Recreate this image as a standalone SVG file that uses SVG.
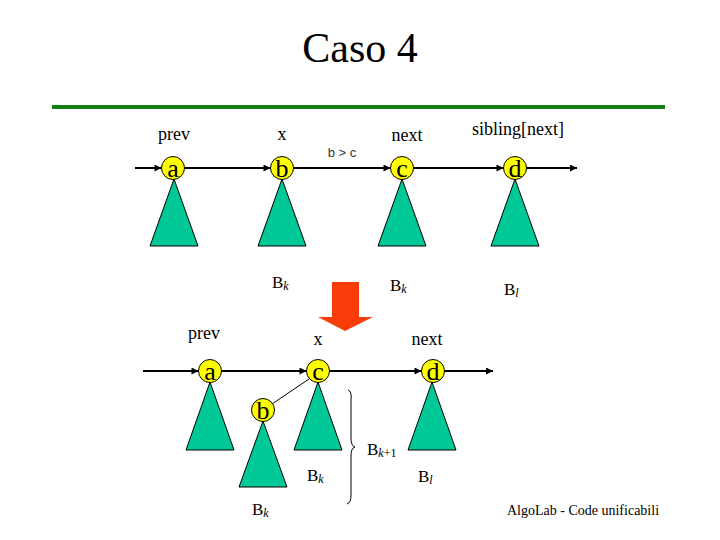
<svg xmlns="http://www.w3.org/2000/svg" width="720" height="540" viewBox="0 0 720 540">
<defs>
<marker id="ah" viewBox="0 0 10 10" refX="10" refY="5" markerWidth="9" markerHeight="7" markerUnits="userSpaceOnUse" orient="auto">
<path d="M0,0 L10,5 L0,10 z" fill="#000"/>
</marker>
<style>
.t{font-family:"Liberation Serif","Times New Roman",serif;fill:#000}
.lbl{font-size:18px;text-anchor:middle}
.nl{font-size:26px;text-anchor:middle}
.bk{font-size:17px}
.sub{font-size:12px;font-style:italic}
.tri{fill:#00c896;stroke:#000;stroke-width:1}
.nd{fill:#ffff00;stroke:#000;stroke-width:1}
.ln{stroke:#000;stroke-width:2;fill:none}
</style>
</defs>
<rect width="720" height="540" fill="#fff"/>
<text class="t" x="360" y="62" font-size="42" text-anchor="middle">Caso 4</text>
<line x1="52" y1="107" x2="665" y2="107" stroke="#138013" stroke-width="4"/>

<g id="connectors">
<line class="ln" x1="135" y1="168" x2="161.5" y2="168" marker-end="url(#ah)"/>
<line class="ln" x1="184.5" y1="168" x2="270.5" y2="168" marker-end="url(#ah)"/>
<line class="ln" x1="293.5" y1="168" x2="390.5" y2="168" marker-end="url(#ah)"/>
<line class="ln" x1="413.5" y1="168" x2="503.5" y2="168" marker-end="url(#ah)"/>
<line class="ln" x1="526.5" y1="168" x2="577" y2="168" marker-end="url(#ah)"/>
<line class="ln" x1="143" y1="371" x2="198.5" y2="371" marker-end="url(#ah)"/>
<line class="ln" x1="221.5" y1="371" x2="306.5" y2="371" marker-end="url(#ah)"/>
<line class="ln" x1="329.5" y1="371" x2="421.5" y2="371" marker-end="url(#ah)"/>
<line class="ln" x1="444.5" y1="371" x2="493" y2="371" marker-end="url(#ah)"/>
<line x1="272" y1="404" x2="309" y2="379" stroke="#000" stroke-width="1"/>
</g>

<text class="t lbl" x="174" y="140">prev</text>
<text class="t lbl" x="282" y="140">x</text>
<text class="t lbl" x="407" y="141">next</text>
<text class="t lbl" x="518" y="135">sibling[next]</text>
<text x="342" y="157" font-family="Liberation Sans, Arial, sans-serif" font-size="13" fill="#333" text-anchor="middle">b &gt; c</text>

<g id="top-a"><polygon class="tri" points="174,179 150,246 198,246"/><circle class="nd" cx="173" cy="168" r="11.5"/><text class="t nl" x="173" y="177">a</text></g>
<g id="top-b"><polygon class="tri" points="282,179 258,246 306,246"/><circle class="nd" cx="282" cy="168" r="11.5"/><text class="t nl" x="282" y="177">b</text></g>
<g id="top-c"><polygon class="tri" points="402,179 378,246 426,246"/><circle class="nd" cx="402" cy="168" r="11.5"/><text class="t nl" x="402" y="177">c</text></g>
<g id="top-d"><polygon class="tri" points="515,179 491,246 539,246"/><circle class="nd" cx="515" cy="168" r="11.5"/><text class="t nl" x="515" y="177">d</text></g>

<text class="t bk" x="272" y="288">B<tspan class="sub" dy="2">k</tspan></text>
<text class="t bk" x="390" y="291">B<tspan class="sub" dy="2">k</tspan></text>
<text class="t bk" x="504" y="295">B<tspan class="sub" dy="2">l</tspan></text>

<g id="arrow"><polygon points="332,282 359,282 359,317 373,317 345,331 318,317 332,317" fill="#f83c0a"/></g>

<text class="t lbl" x="204" y="339">prev</text>
<text class="t lbl" x="318" y="345">x</text>
<text class="t lbl" x="427" y="345">next</text>

<g id="bot-a"><polygon class="tri" points="210,382 186,450 234,450"/><circle class="nd" cx="210" cy="371" r="11.5"/><text class="t nl" x="210" y="380">a</text></g>
<g id="bot-c"><polygon class="tri" points="318,382 294,450 342,450"/><circle class="nd" cx="318" cy="371" r="11.5"/><text class="t nl" x="318" y="380">c</text></g>
<g id="bot-d"><polygon class="tri" points="432,382 408,450 456,450"/><circle class="nd" cx="433" cy="371" r="11.5"/><text class="t nl" x="433" y="380">d</text></g>
<g id="bot-b"><polygon class="tri" points="263,421 239,487 287,487"/><circle class="nd" cx="263" cy="410" r="11.5"/><text class="t nl" x="263" y="419">b</text></g>

<path d="M348,390 Q352,391 351,400 L351,438 Q351,446 355,447 Q351,448 351,456 L351,495 Q351,503 347,504" fill="none" stroke="#000" stroke-width="1"/>

<text class="t bk" x="307" y="481">B<tspan class="sub" dy="2">k</tspan></text>
<text class="t bk" x="418" y="482">B<tspan class="sub" dy="2">l</tspan></text>
<text class="t bk" x="252" y="515">B<tspan class="sub" dy="2">k</tspan></text>
<text class="t bk" x="367" y="455">B<tspan class="sub" dy="2">k</tspan><tspan font-size="12">+1</tspan></text>

<text class="t" x="507" y="515" font-size="14">AlgoLab - Code unificabili</text>
</svg>
